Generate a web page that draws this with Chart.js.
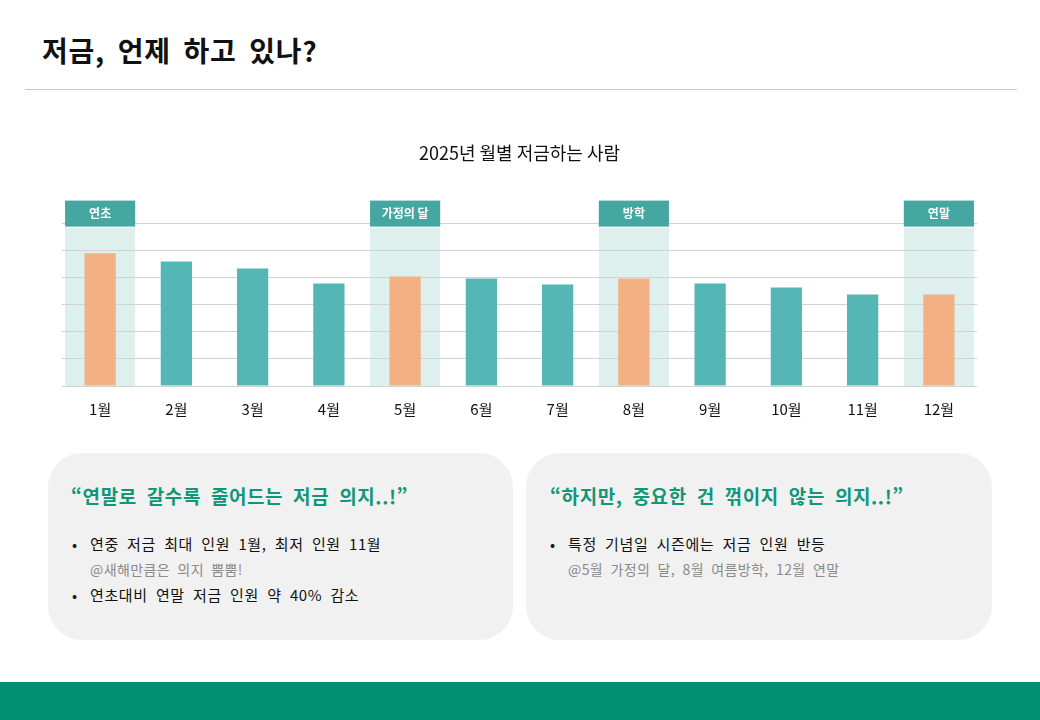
<!DOCTYPE html>
<html lang="ko">
<head>
<meta charset="utf-8">
<script src="https://cdn.jsdelivr.net/npm/chart.js@4"></script>
<style>
  body { margin: 0; width: 1040px; height: 720px; position: relative; background: #fff; overflow: hidden;
         font-family: "Noto Sans CJK KR", "Noto Sans", sans-serif; color: #111; }
  .titulo { position: absolute; left: 42px; top: 30px; font-size: 28px; font-weight: 700; letter-spacing: 0.8px; word-spacing: 4px; }
  .linha { position: absolute; left: 25px; top: 89px; width: 992px; height: 1px; background: #c8c8c8; }
  .grafico { position: absolute; left: 0; top: 120px; width: 1040px; height: 322px; }
  .card { position: absolute; top: 453px; height: 187px; background: #f1f1f1; border-radius: 34px; }
  .card h3 { margin: 0; position: absolute; top: 29px; font-size: 19px; font-weight: 700; color: #0f9777;
             letter-spacing: 0.6px; word-spacing: 4px; white-space: nowrap; }
  .card ul { position: absolute; top: 78px; margin: 0; padding: 0; list-style: none; font-size: 15px;
             letter-spacing: 0.6px; word-spacing: 3.5px; white-space: nowrap; }
  .card li { position: relative; padding-left: 18px; line-height: 25px; }
  .card li::before { content: "•"; position: absolute; left: 0; }
  .card .sub { color: #8a8a8a; font-size: 14px; line-height: 26px; letter-spacing: 0.4px; word-spacing: 3px; }
  .rodape { position: absolute; left: 0; top: 682px; width: 1040px; height: 38px; background: #039176; }
</style>
</head>
<body>
<div class="titulo">저금, 언제 하고 있나?</div>
<div class="linha"></div>
<div class="grafico"><canvas id="performanceChart"></canvas></div>

<div class="card" style="left:48px; width:465px;">
  <h3 style="left:23px;">“연말로 갈수록 줄어드는 저금 의지..!”</h3>
  <ul style="left:24px;">
    <li>연중 저금 최대 인원 1월, 최저 인원 11월<div class="sub">@새해만큼은 의지 뿜뿜!</div></li>
    <li>연초대비 연말 저금 인원 약 40% 감소</li>
  </ul>
</div>
<div class="card" style="left:526px; width:466px;">
  <h3 style="left:24px;">“하지만, 중요한 건 꺾이지 않는 의지..!”</h3>
  <ul style="left:24px;">
    <li>특정 기념일 시즌에는 저금 인원 반등<div class="sub">@5월 가정의 달, 8월 여름방학, 12월 연말</div></li>
  </ul>
</div>
<div class="rodape"></div>

<script>
const meses = ['1월', '2월', '3월', '4월', '5월', '6월', '7월', '8월', '9월', '10월', '11월', '12월'];
const pessoas = [49, 46, 43.4, 37.9, 40.5, 39.7, 37.5, 39.7, 37.9, 36.4, 33.8, 33.8];
// rótulo da faixa destacada ('' = sem destaque)
const destaques = ['연초', '', '', '', '가정의 달', '', '', '방학', '', '', '', '연말'];

const corBarra = '#55b7b5';
const corDestaque = '#f3b183';

// faixas de fundo + caixinhas com o rótulo
const faixasPlugin = {
    id: 'faixas',
    beforeDraw(chart) {
        const {ctx, chartArea, scales: {x}} = chart;
        const larg = (chartArea.width / meses.length) * 0.92;
        ctx.save();
        ctx.fillStyle = '#ddf0ee';
        destaques.forEach((d, i) => {
            if (!d) return;
            const cx = x.getPixelForValue(i);
            ctx.fillRect(cx - larg / 2, chartArea.top + 4, larg, chartArea.bottom - chartArea.top - 4);
        });
        ctx.restore();
    },
    afterDraw(chart) {
        const {ctx, chartArea, scales: {x}} = chart;
        const larg = (chartArea.width / meses.length) * 0.92;
        ctx.save();
        destaques.forEach((d, i) => {
            if (!d) return;
            const cx = x.getPixelForValue(i);
            ctx.fillStyle = '#45a6a2';
            ctx.fillRect(cx - larg / 2, chartArea.top - 23, larg, 26);
            ctx.fillStyle = '#fff';
            ctx.font = 'bold 12px "Noto Sans CJK KR"';
            ctx.textAlign = 'center';
            ctx.textBaseline = 'middle';
            ctx.fillText(d, cx, chartArea.top - 10);
        });
        ctx.restore();
    }
};

const ctx = document.getElementById('performanceChart').getContext('2d');
new Chart(ctx, {
    type: 'bar',
    data: {
        labels: meses,
        datasets: [{
            label: '저금하는 사람',
            data: pessoas,
            backgroundColor: destaques.map(d => d ? corDestaque : corBarra),
            categoryPercentage: 1,
            barPercentage: 0.41,
            borderWidth: 0
        }]
    },
    options: {
        responsive: true,
        maintainAspectRatio: false,
        animation: false,
        layout: {padding: {left: 62, right: 63, top: 0, bottom: 10}},
        plugins: {
            legend: {display: false},
            tooltip: {enabled: false},
            title: {
                display: true,
                text: '2025년 월별 저금하는 사람',
                color: '#111',
                font: {family: '"Noto Sans CJK KR"', size: 18, weight: 'normal'},
                padding: {top: 22, bottom: 60}
            }
        },
        scales: {
            y: {
                display: true,
                min: 0,
                max: 60,
                ticks: {display: false, stepSize: 10},
                border: {display: false},
                grid: {color: '#d2d2d2', drawTicks: false}
            },
            x: {
                ticks: {color: '#111', padding: 14, font: {family: '"Noto Sans CJK KR"', size: 15}},
                border: {display: false},
                grid: {display: false, drawTicks: false}
            }
        }
    },
    plugins: [faixasPlugin]
});
</script>
</body>
</html>
